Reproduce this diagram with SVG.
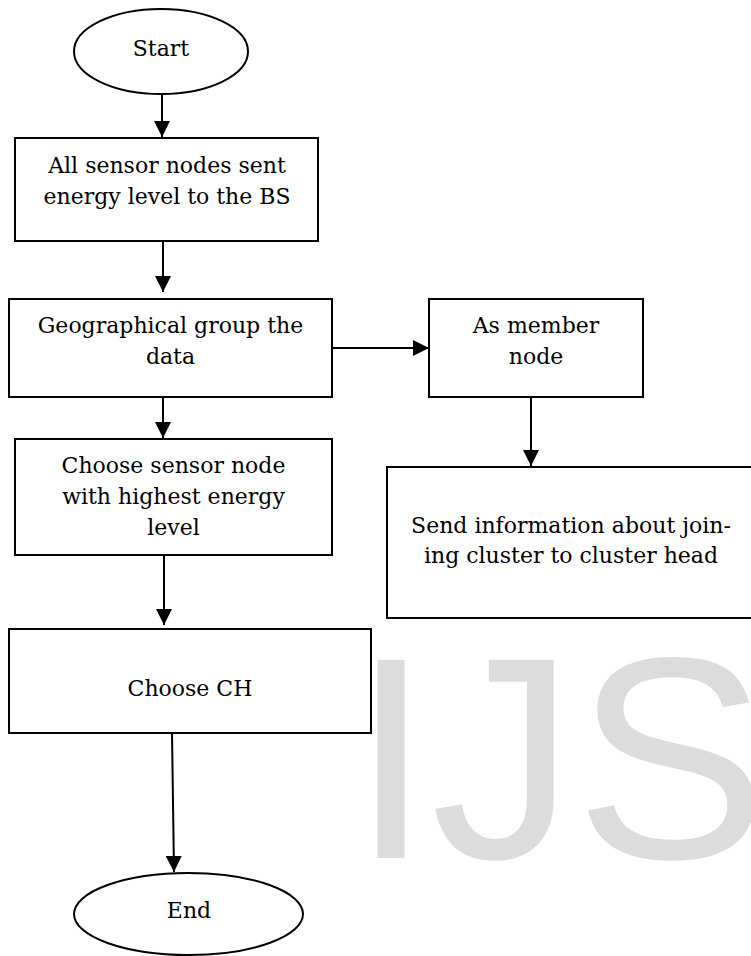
<svg xmlns="http://www.w3.org/2000/svg" width="751" height="956" viewBox="0 0 751 956">
<style>
.box{fill:#fff;stroke:#000;stroke-width:2}
.t{font-family:"DejaVu Serif","Liberation Serif",serif;font-size:22px;fill:#000;text-anchor:middle}
.c{stroke:#000;stroke-width:2;fill:none;marker-end:url(#ah)}
.wm{font-family:"Liberation Sans",Arial,sans-serif;font-size:288px;fill:#dcdcdc}
</style>
<defs>
<marker id="ah" markerUnits="userSpaceOnUse" markerWidth="16" markerHeight="16" viewBox="0 0 16 16" refX="16" refY="8" orient="auto">
<path d="M0,0 L16,8 L0,16 Z" fill="#000"/>
</marker>
</defs>
<rect width="751" height="956" fill="#fff"/>
<text class="wm" x="351" y="858">IJS</text>
<g id="start">
<ellipse class="box" cx="161" cy="51.5" rx="87" ry="42.5"/>
<text class="t" x="161" y="56">Start</text>
</g>
<g id="n1">
<rect class="box" x="15" y="138" width="303" height="103"/>
<text class="t" x="167" y="173">All sensor nodes sent</text>
<text class="t" x="167" y="204">energy level to the BS</text>
</g>
<g id="n2">
<rect class="box" x="9" y="299" width="323" height="98"/>
<text class="t" x="170.5" y="333">Geographical group the</text>
<text class="t" x="170.5" y="364">data</text>
</g>
<g id="n3">
<rect class="box" x="429" y="299" width="214" height="98"/>
<text class="t" x="536" y="333">As member</text>
<text class="t" x="536" y="364">node</text>
</g>
<g id="n4">
<rect class="box" x="15" y="439" width="317" height="116"/>
<text class="t" x="173.5" y="473">Choose sensor node</text>
<text class="t" x="173.5" y="504">with highest energy</text>
<text class="t" x="173.5" y="535">level</text>
</g>
<g id="n5">
<rect class="box" x="387" y="467" width="368" height="151"/>
<text class="t" x="571" y="533">Send information about join-</text>
<text class="t" x="571" y="563">ing cluster to cluster head</text>
</g>
<g id="n6">
<rect class="box" x="9" y="629" width="362" height="104"/>
<text class="t" x="190" y="696">Choose CH</text>
</g>
<g id="end">
<ellipse class="box" cx="188.5" cy="914" rx="114.5" ry="41"/>
<text class="t" x="189" y="918">End</text>
</g>
<g id="connectors">
<line class="c" x1="162" y1="94" x2="162" y2="137"/>
<line class="c" x1="163" y1="241" x2="163" y2="292"/>
<line class="c" x1="332" y1="348" x2="429" y2="348"/>
<line class="c" x1="163" y1="397" x2="163" y2="438"/>
<line class="c" x1="531" y1="397" x2="531" y2="466"/>
<line class="c" x1="164" y1="555" x2="164" y2="625"/>
<line class="c" x1="172" y1="733" x2="174" y2="872"/>
</g>
</svg>
